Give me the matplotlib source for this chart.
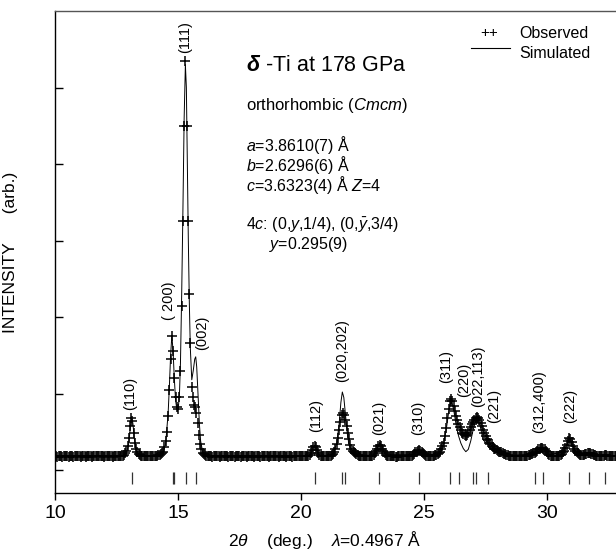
import matplotlib
matplotlib.use("Agg")
import matplotlib.pyplot as plt
import numpy as np

plt.rcParams["font.family"] = ["Liberation Sans", "DejaVu Sans"]
plt.rcParams["mathtext.fontset"] = "custom"
plt.rcParams["mathtext.rm"] = "Liberation Sans"
plt.rcParams["mathtext.it"] = "Liberation Sans:italic"
plt.rcParams["mathtext.bf"] = "Liberation Sans:bold"
plt.rcParams["mathtext.bfit"] = "Liberation Sans:italic:bold"

# observed profile: scan from 10 deg in 0.05 deg steps, one row per degree
obs_start = 10.0
obs_step = 0.05
obs_int = [
    .18, .19, .17, .18, .19, .18, .17, .19, .18, .18, .19, .17, .18, .19, .18, .17, .18, .19, .18, .18,  # 10
    .19, .17, .18, .19, .18, .17, .18, .19, .18, .18, .17, .19, .18, .18, .19, .18, .19, .18, .19, .18,  # 11
    .17, .18, .19, .18, .18, .19, .18, .17, .19, .18, .18, .19, .19, .18, .19, .19, .20, .22, .25, .31,  # 12
    .42, .58, .68, .64, .48, .35, .27, .23, .21, .20, .19, .18, .19, .18, .19, .18, .19, .18, .19, .18,  # 13
    .19, .18, .19, .19, .20, .20, .21, .22, .24, .30, .38, .50, .70, 1.05, 1.45, 1.75, 1.55, 1.20, .95, .83,  # 14
    .80, .95, 1.30, 2.15, 3.25, 4.50, 5.34, 4.50, 3.25, 2.30, 1.66, 1.08, .95, .85, .82, .74, .62, .46, .34, .27,  # 15
    .22, .21, .20, .19, .19, .18, .19, .18, .17, .18, .19, .18, .18, .19, .17, .18, .19, .18, .18, .19,  # 16
    .18, .17, .19, .18, .18, .19, .17, .18, .19, .18, .18, .17, .19, .18, .19, .18, .17, .18, .19, .18,  # 17
    .18, .19, .17, .18, .18, .19, .18, .17, .19, .18, .18, .19, .18, .18, .17, .19, .18, .19, .18, .18,  # 18
    .19, .18, .17, .18, .19, .18, .18, .19, .17, .18, .19, .18, .18, .17, .19, .18, .18, .19, .18, .19,  # 19
    .18, .19, .18, .18, .19, .19, .19, .20, .22, .26, .30, .32, .30, .26, .22, .20, .19, .18, .18, .19,  # 20
    .18, .19, .19, .18, .19, .20, .21, .24, .28, .34, .42, .52, .63, .72, .75, .72, .66, .57, .48, .40,  # 21
    .33, .28, .25, .23, .22, .21, .20, .19, .19, .18, .18, .19, .19, .18, .18, .19, .18, .19, .19, .20,  # 22
    .22, .25, .28, .31, .33, .31, .28, .25, .22, .20, .19, .18, .18, .19, .19, .18, .18, .17, .17, .18,  # 23
    .18, .19, .19, .18, .18, .18, .18, .19, .19, .19, .19, .20, .21, .23, .24, .25, .26, .25, .24, .22,  # 24
    .21, .20, .19, .19, .18, .18, .19, .19, .19, .20, .20, .21, .22, .24, .27, .31, .36, .44, .55, .68,  # 25
    .80, .90, .93, .90, .84, .77, .70, .65, .60, .56, .52, .49, .47, .46, .45, .46, .48, .52, .56, .60,  # 26
    .63, .66, .68, .69, .68, .66, .62, .57, .52, .48, .44, .41, .39, .36, .34, .32, .30, .28, .27, .26,  # 27
    .25, .24, .23, .23, .22, .21, .21, .20, .20, .19, .19, .19, .19, .18, .18, .19, .19, .18, .18, .18,  # 28
    .18, .19, .19, .19, .19, .20, .20, .21, .21, .22, .22, .24, .25, .27, .28, .29, .29, .28, .27, .25,  # 29
    .23, .21, .20, .19, .19, .18, .18, .19, .19, .19, .19, .20, .21, .23, .25, .29, .33, .38, .42, .41,  # 30
    .37, .32, .28, .25, .23, .22, .21, .20, .20, .20, .20, .21, .21, .22, .22, .22, .21, .21, .20, .20,  # 31
    .19, .19, .19, .19, .18, .19, .19, .20, .20, .19, .19, .18, .18, .18, .18, .18, .18, .18, .18, .18,  # 32
    .18,  # 33
]

# simulated profile
sim_2theta = [
    10.0, 12.8, 12.9, 13.0, 13.05, 13.1, 13.13, 13.17, 13.22, 13.3, 13.4,
    14.3, 14.4, 14.5, 14.6, 14.65, 14.7, 14.75, 14.8, 14.85, 14.9, 14.95, 14.98,
    15.02, 15.06, 15.1, 15.15, 15.2, 15.25, 15.3, 15.34, 15.38, 15.42, 15.46, 15.5,
    15.56, 15.62, 15.68, 15.72, 15.76, 15.82, 15.87, 15.92, 16.0, 16.1, 16.2,
    20.3, 20.4, 20.5, 20.55, 20.6, 20.7, 20.8,
    21.3, 21.45, 21.55, 21.62, 21.68, 21.74, 21.8, 21.88, 21.95, 22.05, 22.2,
    22.9, 23.05, 23.2, 23.3, 23.45, 24.6, 24.8, 25.0,
    25.6, 25.75, 25.9, 26.0, 26.1, 26.2, 26.3, 26.4, 26.5, 26.6, 26.7, 26.8, 26.9,
    27.0, 27.1, 27.2, 27.3, 27.4, 27.5, 27.55, 27.62, 27.7, 27.85, 28.0, 28.5,
    29.5, 29.8, 30.1, 30.7, 30.9, 31.1, 31.3, 33.0,
]
sim_int = [
    .18, .18, .21, .35, .52, .65, .68, .60, .42, .25, .19,
    .19, .22, .35, .75, 1.10, 1.50, 1.76, 1.55, 1.20, .92, .80, .78,
    .84, 1.00, 1.40, 2.30, 3.40, 4.60, 5.30, 5.00, 4.00, 3.00, 2.20, 1.60,
    1.18, 1.30, 1.45, 1.48, 1.35, .95, .60, .38, .24, .20, .19,
    .18, .21, .29, .31, .29, .21, .18,
    .20, .35, .60, .88, 1.02, .95, .75, .48, .33, .24, .20,
    .19, .25, .36, .30, .20, .20, .25, .20,
    .20, .28, .52, .75, .90, .80, .60, .45, .35, .28, .24, .27, .38,
    .53, .64, .68, .55, .40, .36, .38, .34, .28, .24, .22, .19,
    .21, .28, .20, .24, .42, .27, .20, .18,
]

# reflection positions (tick marks under the pattern)
refl_2theta = [13.14, 14.79, 14.83, 15.33, 15.74, 20.56, 21.68, 21.77, 23.19, 24.81,
               26.07, 26.43, 26.98, 27.10, 27.60, 29.51, 29.84, 30.90, 31.72, 32.36]

peak_labels = ["(110)", "( 200)", "(111)", "(002)", "(112)", "(020,202)", "(021)",
               "(310)", "(311)", "(220)", "(022,113)", "(221)", "(312,400)", "(222)"]
label_2theta = [13.04, 14.63, 15.27, 15.99, 20.60, 21.68, 23.17, 24.77, 25.90,
                26.62, 27.18, 27.85, 29.67, 30.95]
label_height = [0.79, 1.96, 5.45, 1.57, 0.50, 1.15, 0.46, 0.46, 1.14, 0.96,
                0.83, 0.61, 0.48, 0.61]

assert len(obs_int) == 461
assert len(sim_2theta) == len(sim_int)
obs_2theta = obs_start + obs_step * np.arange(len(obs_int))

fig = plt.figure(figsize=(6.16, 5.51), dpi=100)
ax = fig.add_axes([55 / 616, 58 / 551, 23 * 24.6 / 616, 482 / 551])

ax.plot(obs_2theta, obs_int, linestyle="none", marker="+", ms=6.5, mew=1.1, color="black")
ax.plot(sim_2theta, sim_int, color="black", lw=0.7)
ax.vlines(refl_2theta, -0.18, -0.03, color="#333333", lw=0.9)

for lab, x, y in zip(peak_labels, label_2theta, label_height):
    ax.text(x, y, lab, rotation=90, ha="center", va="bottom", fontsize=10.5)

ax.set_xlim(10, 33)
ax.set_ylim(-0.3, 6.0)
ax.set_xticks([10, 15, 20, 25, 30])
ax.set_yticks([0, 1, 2, 3, 4, 5])
ax.set_yticklabels([])
ax.tick_params(axis="x", direction="out", length=5, labelsize=14, width=1)
ax.tick_params(axis="y", direction="in", length=6, width=1)
ax.spines["right"].set_visible(False)
for s in ["top", "left", "bottom"]:
    ax.spines[s].set_linewidth(1.0)
ax.spines["top"].set_color("#555555")

ax.set_xlabel(r"2$\theta$    (deg.)    $\lambda$=0.4967 Å", fontsize=12.5)
ax.xaxis.set_label_coords((325 - 55) / (23 * 24.6), -0.074)
ax.set_ylabel("INTENSITY      (arb.)", fontsize=12.5)
ax.yaxis.set_label_coords(-0.065, 0.5)

# annotation block
ax.text(17.75, 5.29, r"$\boldsymbol{\delta}$ -Ti at 178 GPa", fontsize=15.5, va="center")
ax.text(17.75, 4.77, r"orthorhombic ($Cmcm$)", fontsize=12, va="center")
ax.text(17.75, 4.25, r"$a$=3.8610(7) Å", fontsize=11.5, va="center")
ax.text(17.75, 3.99, r"$b$=2.6296(6) Å", fontsize=11.5, va="center")
ax.text(17.75, 3.73, r"$c$=3.6323(4) Å $Z$=4", fontsize=11.5, va="center")
ax.text(17.75, 3.20, r"4$c$: (0,$y$,1/4), (0,$\bar{y}$,3/4)", fontsize=11.5, va="center")
ax.text(18.7, 2.95, r"$y$=0.295(9)", fontsize=11.5, va="center")

# key
ax.text(27.63, 5.71, "++", fontsize=11, ha="center", va="center")
ax.text(28.86, 5.71, "Observed", fontsize=11.5, va="center")
ax.plot([26.9, 28.5], [5.52, 5.52], color="black", lw=0.8)
ax.text(28.86, 5.45, "Simulated", fontsize=11.5, va="center")

fig.savefig("out.png", dpi=100)
